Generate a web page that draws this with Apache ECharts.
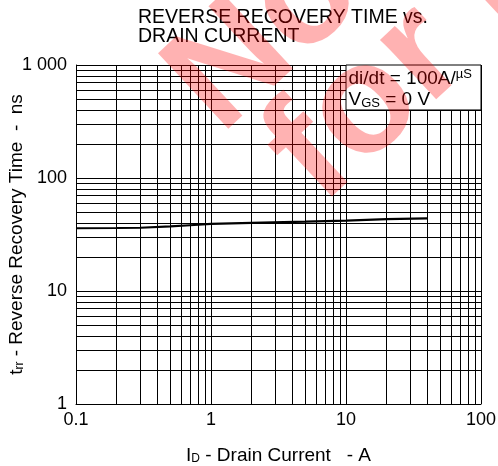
<!DOCTYPE html>
<html>
<head>
<meta charset="utf-8">
<script src="https://cdn.jsdelivr.net/npm/echarts@6/dist/echarts.min.js"></script>
<style>
  html, body { margin: 0; padding: 0; background: #fff; }
  #chart { width: 498px; height: 466px; }
</style>
</head>
<body>
<div id="chart"></div>
<script>
// drain current (A) and reverse recovery time (ns)
const current = [0.1, 0.2, 0.3, 0.5, 0.7, 1, 2, 5, 10, 20, 40]
const trr = [35.9, 36.1, 36.3, 37.3, 38.2, 39.2, 40.1, 41.1, 42, 43.2, 44]

const xTickLabels = ['0.1', '1', '10', '100']
const yTickLabels = ['1', '10', '100', '1 000']

// minor grid lines of the log paper
const xMinor = [0.2, 0.3, 0.4, 0.5, 0.6, 0.7, 0.8, 0.9,
  2, 3, 4, 5, 6, 7, 8, 9,
  20, 30, 40, 50, 60, 70, 80, 90]
const yMinor = [2, 3, 4, 5, 6, 7, 8, 9,
  20, 30, 40, 50, 60, 70, 80, 90,
  200, 300, 400, 500, 600, 700, 800, 900]

// the condition box in the upper right corner (data units)
const boxX = [10, 100]
const boxY = [400, 1000]

const FONT = '"Liberation Sans", Arial, sans-serif'

const chart = echarts.init(document.getElementById('chart'))

// grid lines stop at the condition box
const gridLines = []
xMinor.forEach(v => {
  const top = v > boxX[0] ? boxY[0] : 1000
  gridLines.push([{ coord: [v, 1] }, { coord: [v, top] }])
})
yMinor.forEach(v => {
  const right = v > boxY[0] ? boxX[0] : 100
  gridLines.push([{ coord: [0.1, v] }, { coord: [right, v] }])
})

const nameRich = {
  t: { fontFamily: FONT, fontSize: 19, color: '#000', verticalAlign: 'bottom' },
  s: { fontFamily: FONT, fontSize: 12, color: '#000', verticalAlign: 'bottom' }
}

const option = {
  animation: false,
  title: {
    text: 'REVERSE RECOVERY TIME vs.\nDRAIN CURRENT',
    left: 138,
    top: 8,
    padding: 0,
    textStyle: { fontFamily: FONT, fontSize: 19.5, fontWeight: 'normal', color: '#000', lineHeight: 19 }
  },
  grid: { left: 76, right: 17, top: 65, bottom: 62, containLabel: false, outerBoundsMode: 'none' },
  xAxis: {
    type: 'log',
    logBase: 10,
    min: 0.1,
    max: 100,
    name: '{t|I}{s|D}{t| - Drain Current   - A}',
    nameLocation: 'middle',
    nameGap: 42,
    nameTextStyle: { rich: nameRich },
    axisLine: { lineStyle: { color: '#000', width: 1 } },
    axisTick: { show: false },
    splitLine: { show: true, lineStyle: { color: '#000', width: 1 } },
    axisLabel: {
      fontFamily: FONT, fontSize: 18, color: '#000', margin: 7,
      formatter: v => xTickLabels[Math.round(Math.log10(v)) + 1]
    }
  },
  yAxis: {
    type: 'log',
    logBase: 10,
    min: 1,
    max: 1000,
    name: '{t|t}{s|rr}{t| - Reverse Recovery Time  -  ns}',
    nameLocation: 'middle',
    nameGap: 50,
    nameMoveOverlap: false,
    nameTextStyle: { rich: nameRich },
    axisLine: { lineStyle: { color: '#000', width: 1 } },
    axisTick: { show: false },
    splitLine: { show: true, lineStyle: { color: '#000', width: 1 } },
    axisLabel: {
      fontFamily: FONT, fontSize: 18, color: '#000', margin: 9,
      formatter: v => yTickLabels[Math.round(Math.log10(v))]
    }
  },
  series: [
    {
      type: 'line',
      z: 1,
      data: [],
      silent: true,
      markLine: {
        silent: true,
        z: 2,
        symbol: ['none', 'none'],
        label: { show: false },
        lineStyle: { color: '#000', width: 1, type: 'solid' },
        data: gridLines
      }
    },
    {
      type: 'line',
      z: 3,
      data: [],
      silent: true,
      markArea: {
        silent: true,
        z: 10,
        itemStyle: { color: '#fff', borderColor: '#000', borderWidth: 1, opacity: 1 },
        label: {
          show: true,
          position: 'insideTopLeft',
          distance: 3,
          formatter: '{a|di/dt = 100A/}{u|\u00b5S}\n{a|V}{g|GS}{a| = 0 V}',
          rich: {
            a: { fontFamily: FONT, fontSize: 19, color: '#000', lineHeight: 21, verticalAlign: 'bottom' },
            u: { fontFamily: FONT, fontSize: 13, color: '#000', lineHeight: 21, verticalAlign: 'top' },
            g: { fontFamily: FONT, fontSize: 13, color: '#000', lineHeight: 21, verticalAlign: 'bottom' }
          }
        },
        data: [[{ xAxis: boxX[0], yAxis: boxY[0] }, { xAxis: boxX[1], yAxis: boxY[1] }]]
      }
    },
    {
      type: 'line',
      z: 5,
      data: current.map((x, i) => [x, trr[i]]),
      showSymbol: false,
      lineStyle: { color: '#000', width: 2.2 },
      silent: true
    }
  ],
  graphic: [
    {
      type: 'text', z: 100, silent: true,
      x: 244, y: 160, rotation: 0.75,
      style: { text: 'Not Recommended', font: 'bold 150px "Liberation Sans"', fill: 'rgba(255,0,0,0.3)', verticalAlign: 'bottom' }
    },
    {
      type: 'text', z: 100, silent: true,
      x: 345, y: 232, rotation: 0.75,
      style: { text: 'for new design', font: 'bold 155px "Liberation Sans"', fill: 'rgba(255,0,0,0.3)', verticalAlign: 'bottom' }
    }
  ]
}

chart.setOption(option)
</script>
</body>
</html>
